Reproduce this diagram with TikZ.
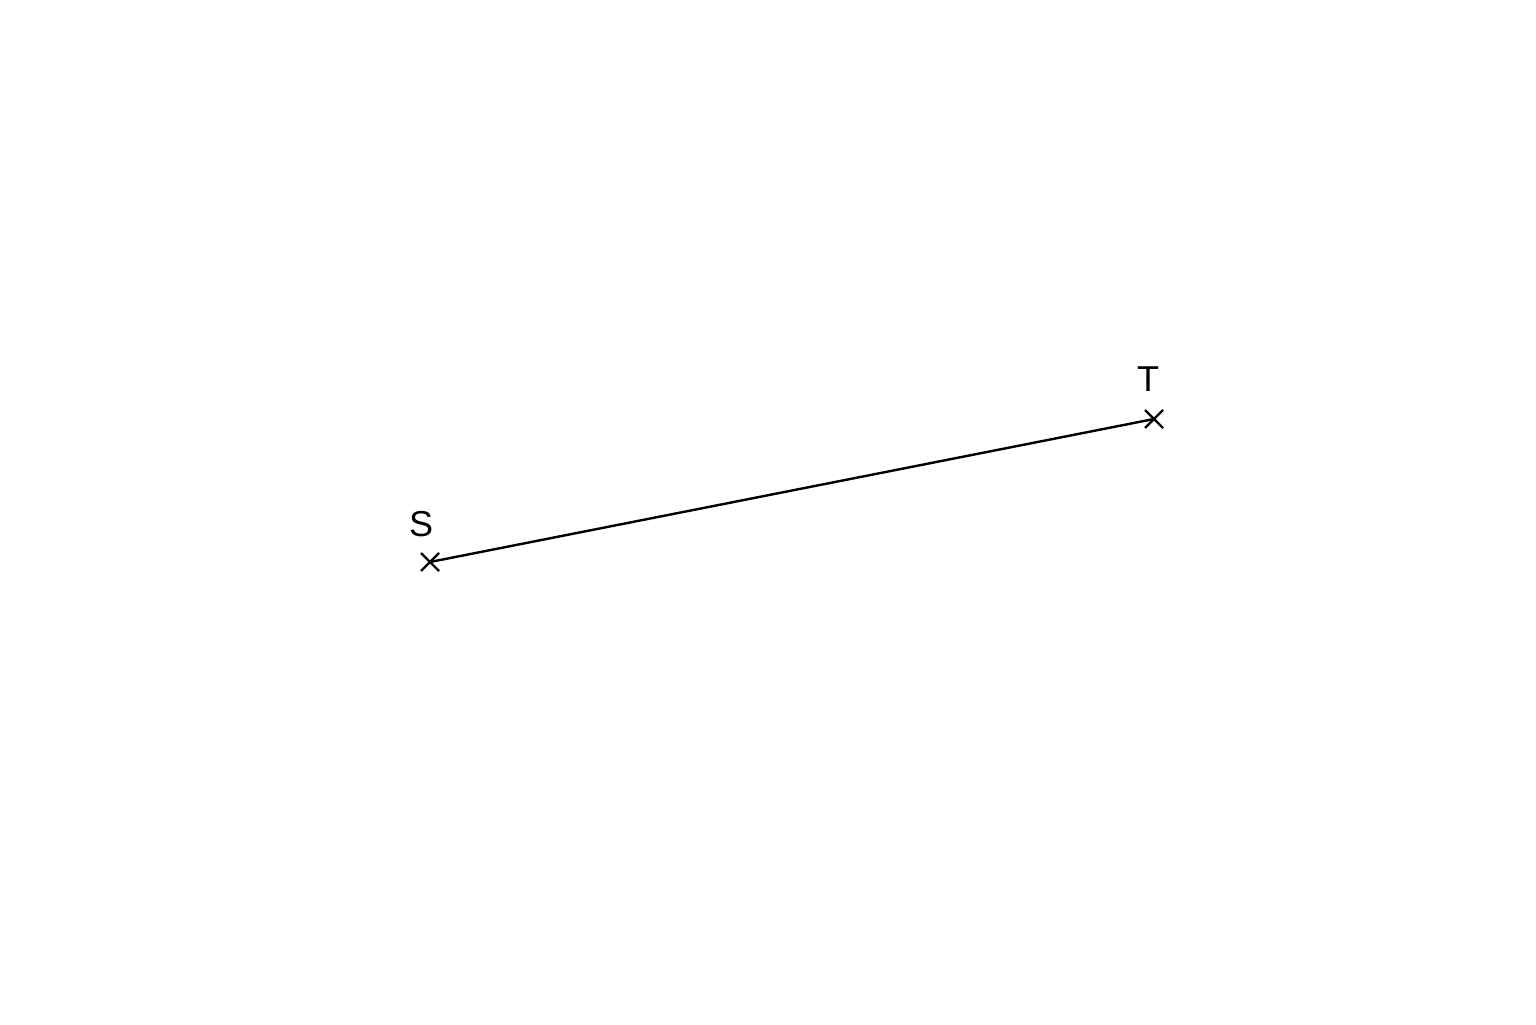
\documentclass[tikz,border=0pt]{standalone}
\usepackage{fontspec}
\setmainfont{Liberation Sans}
\usetikzlibrary{shapes.misc}
\begin{document}
\begin{tikzpicture}[x=1pt,y=1pt,
  pt/.style={draw, cross out, line width=1.1pt, minimum size=9pt, inner sep=0pt, outer sep=0pt},
  lbl/.style={font=\fontsize{18}{20}\selectfont, inner sep=0pt}]
\useasboundingbox (0,0) rectangle (768,512);
\node[pt] (S) at (215,231) {};
\node[pt] (T) at (577,302.5) {};
\draw[line width=1.2pt] (S.center) -- (T.center);
\node[lbl] (Sl) at (210.5,250) {S};
\node[lbl] (Tl) at (574,322.5) {T};
\end{tikzpicture}
\end{document}
